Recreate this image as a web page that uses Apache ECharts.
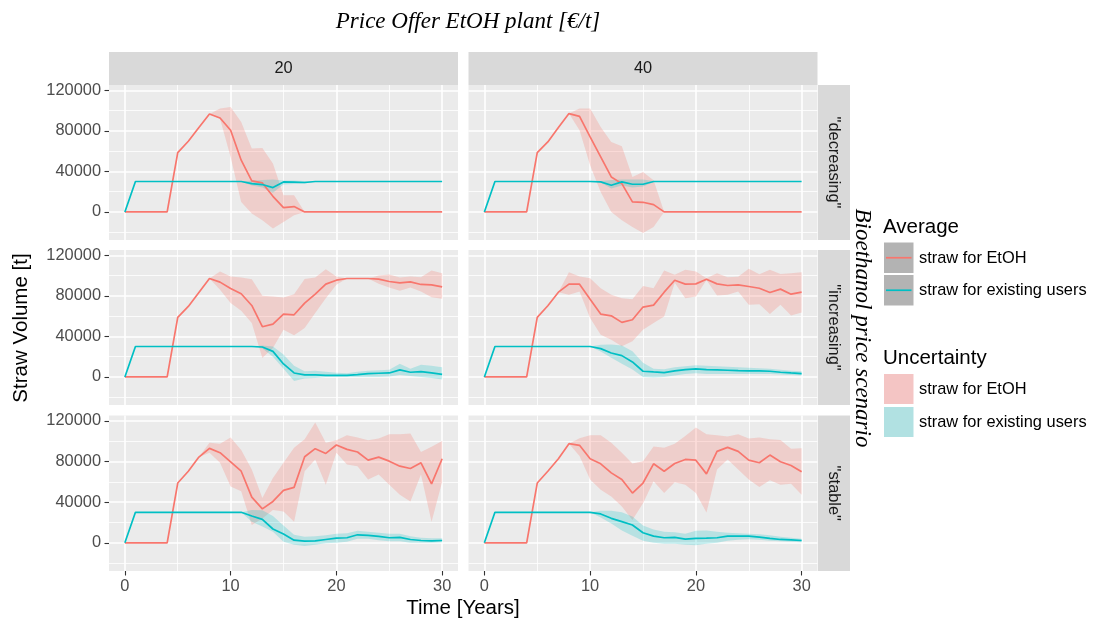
<!DOCTYPE html>
<html>
<head>
<meta charset="utf-8">
<script src="https://cdn.jsdelivr.net/npm/echarts@6/dist/echarts.min.js"></script>
<style>
html,body{margin:0;padding:0;background:#fff;}
#chart{width:1095px;height:624px;}
</style>
</head>
<body>
<div id="chart"></div>
<script>
// ---- data -------------------------------------------------------------
const years = [0,1,2,3,4,5,6,7,8,9,10,11,12,13,14,15,16,17,18,19,20,21,22,23,24,25,26,27,28,29,30];

const priceOffers = ['20', '40'];
const scenarios = ['"decreasing"', '"increasing"', '"stable"'];

const xTickValues = [0, 10, 20, 30];
const xMinorValues = [5, 15, 25];
const yTickValues = [0, 40000, 80000, 120000];
const yMinorValues = [-20000, 20000, 60000, 100000];

// decreasing, 20 €/t
const dec20Etoh   = [0,0,0,0,0,58500,69700,83200,96600,92700,80500,51000,30600,28600,15400,4300,5300,0,0,0,0,0,0,0,0,0,0,0,0,0,0];
const dec20EtohHi = [0,0,0,0,0,58500,69700,83200,96600,102000,103500,88700,62500,63100,47700,16400,16400,0,0,0,0,0,0,0,0,0,0,0,0,0,0];
const dec20EtohLo = [0,0,0,0,0,58500,69700,83200,96600,92000,54200,9900,-1600,-8200,-16400,-9900,-3300,0,0,0,0,0,0,0,0,0,0,0,0,0,0];
const dec20Users   = [0,30000,30000,30000,30000,30000,30000,30000,30000,30000,30000,30000,27900,27000,24000,29600,29300,29000,30000,30000,30000,30000,30000,30000,30000,30000,30000,30000,30000,30000,30000];
const dec20UsersHi = [0,30000,30000,30000,30000,30000,30000,30000,30000,30000,30000,30000,31000,31500,32000,31000,31000,30500,30000,30000,30000,30000,30000,30000,30000,30000,30000,30000,30000,30000,30000];
const dec20UsersLo = [0,30000,30000,30000,30000,30000,30000,30000,30000,30000,30000,30000,26000,24000,19000,27000,27500,28000,30000,30000,30000,30000,30000,30000,30000,30000,30000,30000,30000,30000,30000];

// decreasing, 40 €/t
const dec40Etoh   = [0,0,0,0,0,58500,69000,83200,97000,94300,74000,54200,34500,27900,9900,9500,7200,0,0,0,0,0,0,0,0,0,0,0,0,0,0];
const dec40EtohHi = [0,0,0,0,0,58500,69000,83200,97000,101900,101900,83800,69000,64800,34500,39400,31200,0,0,0,0,0,0,0,0,0,0,0,0,0,0];
const dec40EtohLo = [0,0,0,0,0,58500,69000,83200,97000,80500,46000,19700,0,-8200,-14800,-20700,-14800,0,0,0,0,0,0,0,0,0,0,0,0,0,0];
const dec40Users   = [0,30000,30000,30000,30000,30000,30000,30000,30000,30000,30000,29600,26300,29600,27300,27300,30000,30000,30000,30000,30000,30000,30000,30000,30000,30000,30000,30000,30000,30000,30000];
const dec40UsersHi = [0,30000,30000,30000,30000,30000,30000,30000,30000,30000,30000,30500,31500,32000,32000,32000,30500,30000,30000,30000,30000,30000,30000,30000,30000,30000,30000,30000,30000,30000,30000];
const dec40UsersLo = [0,30000,30000,30000,30000,30000,30000,30000,30000,30000,30000,29000,23000,26000,24000,25000,29500,30000,30000,30000,30000,30000,30000,30000,30000,30000,30000,30000,30000,30000,30000];

// increasing, 20 €/t
const inc20Etoh   = [0,0,0,0,0,58700,69500,83300,97100,93500,87200,82000,70500,49500,52100,62000,61300,72800,81600,91500,95400,97100,97100,97100,96400,94100,92800,93800,91200,90800,88900];
const inc20EtohHi = [0,0,0,0,0,58700,69500,83300,97100,103900,99000,98000,96400,80000,79400,78400,81600,96700,98000,106200,99000,97100,97100,97100,100000,101000,98000,99000,98400,104900,102300];
const inc20EtohLo = [0,0,0,0,0,58700,69500,83300,97100,85900,72800,65200,53100,18700,28500,46600,41000,48200,63000,77700,90800,97100,97100,97100,91800,88200,84900,88200,84300,78700,77000];
const inc20Users   = [0,30000,30000,30000,30000,30000,30000,30000,30000,30000,30000,30000,30000,29500,25200,12800,3900,2000,2000,1600,1600,1600,2300,3300,3600,3900,6900,4600,5200,3900,2600];
const inc20UsersHi = [0,30000,30000,30000,30000,30000,30000,30000,30000,30000,30000,30000,30000,31000,30000,22000,11000,5600,6000,5000,4000,3500,5000,6000,6500,7000,13000,8000,12000,11000,9500];
const inc20UsersLo = [0,30000,30000,30000,30000,30000,30000,30000,30000,30000,30000,30000,30000,28000,20000,8000,-4000,-1600,-1000,0,0,0,0,0,0,500,2000,1000,0,-1000,-2500];

// increasing, 40 €/t
const inc40Etoh   = [0,0,0,0,0,58700,70200,83600,91500,91500,76700,62000,60300,53800,56400,68900,70800,83600,95400,91500,91800,96400,91800,90200,90800,89200,87500,83300,86600,81600,83600];
const inc40EtohHi = [0,0,0,0,0,58700,70200,83600,103300,99000,97400,87500,81000,77700,76700,89800,87500,104900,100700,105600,103900,97400,102300,98400,98700,106600,101300,105600,101600,102300,103300];
const inc40EtohLo = [0,0,0,0,0,58700,70200,83600,81000,84300,58000,41600,36700,30200,35100,46600,53100,59700,93000,77700,79400,95700,80300,81000,84300,71200,71800,62000,71200,60700,63600];
const inc40Users   = [0,30000,30000,30000,30000,30000,30000,30000,30000,30000,30000,27900,23600,21000,14800,5600,4900,4300,5900,7200,7900,7200,6900,6600,6200,5900,5900,5600,4600,3900,3300];
const inc40UsersHi = [0,30000,30000,30000,30000,30000,30000,30000,30000,30000,30000,31800,32000,31000,25200,14000,8000,7500,9500,10500,11500,11000,10500,10000,9500,9000,8500,8000,7000,6000,5500];
const inc40UsersLo = [0,30000,30000,30000,30000,30000,30000,30000,30000,30000,30000,25000,19000,13000,7200,0,-500,0,1500,3000,3500,3000,3000,3000,3000,3000,3000,3000,2500,2000,1500];

// stable, 20 €/t
const sta20Etoh   = [0,0,0,0,0,58800,70400,84300,92900,88600,79700,70400,45000,33400,40700,51600,54500,84600,92600,87900,96200,91900,89300,81300,84300,80300,75400,73100,78700,57900,82700];
const sta20EtohHi = [0,0,0,0,0,58800,70400,84300,98500,97500,103500,91200,72100,44000,63800,78700,93600,101800,118400,98500,100800,105800,103500,100800,102500,106800,106800,107400,89300,94500,100200];
const sta20EtohLo = [0,0,0,0,0,58800,70400,84300,88600,78700,55500,50600,17500,24000,32400,30700,20800,70400,82000,57200,88600,77000,75400,62200,67100,57200,47300,40700,67100,20800,60000];
const sta20Users   = [0,30000,30000,30000,30000,30000,30000,30000,30000,30000,30000,30000,26400,23100,13600,8600,2600,1700,2000,3300,4600,5000,7900,7300,6300,5000,5300,3300,2300,2000,2300];
const sta20UsersHi = [0,30000,30000,30000,30000,30000,30000,30000,30000,30000,30000,30000,32400,32000,26400,17000,8000,6000,6500,7500,9000,9500,11900,11000,10000,9000,9000,6500,5000,4500,4500];
const sta20UsersLo = [0,30000,30000,30000,30000,30000,30000,30000,30000,30000,30000,30000,20800,16000,10900,1000,-2000,-3000,-2000,-500,0,1000,4000,4000,2500,1500,1500,0,0,0,500];

// stable, 40 €/t
const sta40Etoh   = [0,0,0,0,0,58800,70400,82700,97500,95900,82700,77700,68800,62200,48900,58800,77700,70400,78000,82000,81300,67800,89900,93900,89900,81300,78700,86300,79700,76000,69800];
const sta40EtohHi = [0,0,0,0,0,58800,70400,82700,97500,102800,105800,105800,98500,88600,78000,80300,94600,93600,97500,105100,113400,106800,105800,104500,106800,102500,103500,101800,101200,92600,92900];
const sta40EtohLo = [0,0,0,0,0,58800,70400,82700,97500,85300,62200,52200,45600,35700,22500,39000,60500,48900,59500,57200,48900,29800,72100,82000,72100,62200,54900,61500,57200,58200,47300];
const sta40Users   = [0,30000,30000,30000,30000,30000,30000,30000,30000,30000,30000,28400,24100,20800,17500,9900,6600,5000,5300,3600,4300,4600,5000,6600,6600,6600,5600,4300,3300,3000,2300];
const sta40UsersHi = [0,30000,30000,30000,30000,30000,30000,30000,30000,30000,30000,31500,31500,30000,26000,17000,13000,11000,10500,9000,11900,12000,11000,10000,9500,9000,8500,7500,6000,5000,4000];
const sta40UsersLo = [0,30000,30000,30000,30000,30000,30000,30000,30000,30000,30000,25000,19000,12000,7000,2000,0,-1000,-1000,-2000,-2300,-1000,0,2000,3000,3500,3000,2000,1500,1000,500];

// ---- layout & style ---------------------------------------------------
const SANS = '"Liberation Sans", Arial, Helvetica, sans-serif';
const SERIF = '"Liberation Serif", "Times New Roman", serif';
const RED = '#F8766D', TEAL = '#00BFC4';
const RED_BAND = 'rgba(248,118,109,0.25)', TEAL_BAND = 'rgba(0,191,196,0.22)';
const X_MIN = -1.5, X_MAX = 31.5, Y_MIN = -27700, Y_MAX = 125200;
const COLS = [{left: 109, width: 349}, {left: 468.5, width: 349}];
const ROWS = [{top: 85, height: 155}, {top: 250, height: 155}, {top: 415.5, height: 155.5}];
const SMALL = 16.4, LARGE = 20.5;

const panels = [
  {row: 0, col: 0, etoh: dec20Etoh, etohLo: dec20EtohLo, etohHi: dec20EtohHi, users: dec20Users, usersLo: dec20UsersLo, usersHi: dec20UsersHi},
  {row: 0, col: 1, etoh: dec40Etoh, etohLo: dec40EtohLo, etohHi: dec40EtohHi, users: dec40Users, usersLo: dec40UsersLo, usersHi: dec40UsersHi},
  {row: 1, col: 0, etoh: inc20Etoh, etohLo: inc20EtohLo, etohHi: inc20EtohHi, users: inc20Users, usersLo: inc20UsersLo, usersHi: inc20UsersHi},
  {row: 1, col: 1, etoh: inc40Etoh, etohLo: inc40EtohLo, etohHi: inc40EtohHi, users: inc40Users, usersLo: inc40UsersLo, usersHi: inc40UsersHi},
  {row: 2, col: 0, etoh: sta20Etoh, etohLo: sta20EtohLo, etohHi: sta20EtohHi, users: sta20Users, usersLo: sta20UsersLo, usersHi: sta20UsersHi},
  {row: 2, col: 1, etoh: sta40Etoh, etohLo: sta40EtohLo, etohHi: sta40EtohHi, users: sta40Users, usersLo: sta40UsersLo, usersHi: sta40UsersHi}
];

const pts = arr => years.map((t, k) => [t, arr[k]]);

// Uncertainty ribbon: one polygon per band, upper edge forward, lower edge back,
// placed through the grid's own coordinate system.
function ribbonSeries(xi, yi, lo, hi, color) {
  const rows = years.map((t, k) => [t, lo[k], hi[k]]);
  return {
    type: 'custom', xAxisIndex: xi, yAxisIndex: yi, silent: true, z: 1,
    data: rows,
    encode: {x: 0, y: [1, 2]},
    renderItem: function (params, api) {
      if (params.dataIndex !== 0) return null;
      const upper = rows.map(r => api.coord([r[0], r[2]]));
      const lower = rows.map(r => api.coord([r[0], r[1]])).reverse();
      return {
        type: 'polygon',
        shape: {points: upper.concat(lower)},
        style: {fill: color, stroke: null}
      };
    }
  };
}

const grids = [], xAxes = [], yAxes = [], series = [];

panels.forEach((p, i) => {
  const col = COLS[p.col], row = ROWS[p.row];
  const bottomRow = p.row === ROWS.length - 1;
  const leftCol = p.col === 0;
  grids.push({
    left: col.left, top: row.top, width: col.width, height: row.height,
    show: true, backgroundColor: '#EBEBEB', borderWidth: 0,
    containLabel: false, outerBoundsMode: 'none'
  });
  // main x axis (major grid, ticks, labels)
  xAxes.push({
    type: 'value', gridIndex: i, position: 'bottom', min: X_MIN, max: X_MAX,
    axisLine: {show: false, onZero: false},
    axisTick: {show: bottomRow, customValues: xTickValues, length: 4.5, lineStyle: {color: '#333333', width: 1.1}},
    axisLabel: {show: bottomRow, customValues: xTickValues, formatter: v => String(v), color: '#4D4D4D', fontSize: SMALL, fontFamily: SANS, margin: 7},
    splitLine: {show: true, lineStyle: {color: '#FFFFFF', width: 1.6}}
  });
  // minor x grid
  xAxes.push({
    type: 'value', gridIndex: i, position: 'top', min: X_MIN, max: X_MAX,
    axisLine: {show: false, onZero: false}, axisLabel: {show: false},
    axisTick: {show: false, customValues: xMinorValues},
    splitLine: {show: true, lineStyle: {color: '#FFFFFF', width: 0.8}}
  });
  // main y axis
  yAxes.push({
    type: 'value', gridIndex: i, position: 'left', min: Y_MIN, max: Y_MAX,
    axisLine: {show: false, onZero: false},
    axisTick: {show: leftCol, customValues: yTickValues, length: 4.5, lineStyle: {color: '#333333', width: 1.1}},
    axisLabel: {show: leftCol, customValues: yTickValues, formatter: v => String(v), color: '#4D4D4D', fontSize: SMALL, fontFamily: SANS, margin: 8},
    splitLine: {show: true, lineStyle: {color: '#FFFFFF', width: 1.6}}
  });
  // minor y grid
  yAxes.push({
    type: 'value', gridIndex: i, position: 'right', min: Y_MIN, max: Y_MAX,
    axisLine: {show: false, onZero: false}, axisLabel: {show: false},
    axisTick: {show: false, customValues: yMinorValues},
    splitLine: {show: true, lineStyle: {color: '#FFFFFF', width: 0.8}}
  });

  const xi = 2 * i, yi = 2 * i;
  series.push(ribbonSeries(xi, yi, p.etohLo, p.etohHi, RED_BAND));
  series.push(ribbonSeries(xi, yi, p.usersLo, p.usersHi, TEAL_BAND));

  series.push({
    name: 'straw for EtOH', type: 'line', xAxisIndex: xi, yAxisIndex: yi,
    data: pts(p.etoh), symbol: 'none', silent: true,
    lineStyle: {color: RED, width: 1.7}, z: 3
  });
  series.push({
    name: 'straw for existing users', type: 'line', xAxisIndex: xi, yAxisIndex: yi,
    data: pts(p.users), symbol: 'none', silent: true,
    lineStyle: {color: TEAL, width: 1.7}, z: 4
  });
});

// ---- facet strips, titles and legend ----------------------------------
const graphics = [];
const text = (x, y, str, opts) => Object.assign({
  type: 'text', x: x, y: y, silent: true,
  style: Object.assign({text: str, fill: '#000000', fontFamily: SANS, fontSize: LARGE, align: 'center', verticalAlign: 'middle'}, opts.style || {})
}, opts.el || {});

COLS.forEach((c, j) => {
  graphics.push({type: 'rect', shape: {x: c.left, y: 52, width: c.width, height: 33}, style: {fill: '#D9D9D9'}, silent: true});
  graphics.push(text(c.left + c.width / 2, 68.5, priceOffers[j], {style: {fontSize: SMALL, fill: '#1A1A1A'}}));
});
ROWS.forEach((r, j) => {
  graphics.push({type: 'rect', shape: {x: 818, y: r.top, width: 32, height: r.height}, style: {fill: '#D9D9D9'}, silent: true});
  graphics.push(text(834, r.top + r.height / 2, scenarios[j], {style: {fontSize: SMALL, fill: '#1A1A1A'}, el: {rotation: -Math.PI / 2}}));
});

graphics.push(text(468, 22, 'Price Offer EtOH plant [€/t]', {style: {fontFamily: SERIF, fontStyle: 'italic', fontSize: 23}}));
graphics.push(text(862, 328, 'Bioethanol price scenario', {style: {fontFamily: SERIF, fontStyle: 'italic', fontSize: 23}, el: {rotation: -Math.PI / 2}}));
graphics.push(text(21, 328, 'Straw Volume [t]', {el: {rotation: Math.PI / 2}}));
graphics.push(text(463, 608, 'Time [Years]', {}));

// legend: Average
graphics.push(text(883, 227, 'Average', {style: {align: 'left'}}));
[[242.5, RED, 'straw for EtOH'], [275, TEAL, 'straw for existing users']].forEach(([y, c, label]) => {
  graphics.push({type: 'rect', shape: {x: 884, y: y, width: 29.5, height: 30.5}, style: {fill: '#B3B3B3'}, silent: true});
  graphics.push({type: 'line', shape: {x1: 886, y1: y + 15.25, x2: 911.5, y2: y + 15.25}, style: {stroke: c, lineWidth: 1.7}, silent: true});
  graphics.push(text(919, y + 15.5, label, {style: {align: 'left', fontSize: SMALL}}));
});
// legend: Uncertainty
graphics.push(text(883, 358, 'Uncertainty', {style: {align: 'left'}}));
[[374, '#F4C5C4', 'straw for EtOH'], [407, '#B1E1E2', 'straw for existing users']].forEach(([y, c, label]) => {
  graphics.push({type: 'rect', shape: {x: 884, y: y, width: 29.5, height: 30}, style: {fill: c}, silent: true});
  graphics.push(text(919, y + 15, label, {style: {align: 'left', fontSize: SMALL}}));
});

const chart = echarts.init(document.getElementById('chart'), null, {renderer: 'canvas'});
chart.setOption({
  animation: false,
  backgroundColor: '#FFFFFF',
  grid: grids,
  xAxis: xAxes,
  yAxis: yAxes,
  series: series,
  graphic: graphics
});
</script>
</body>
</html>
